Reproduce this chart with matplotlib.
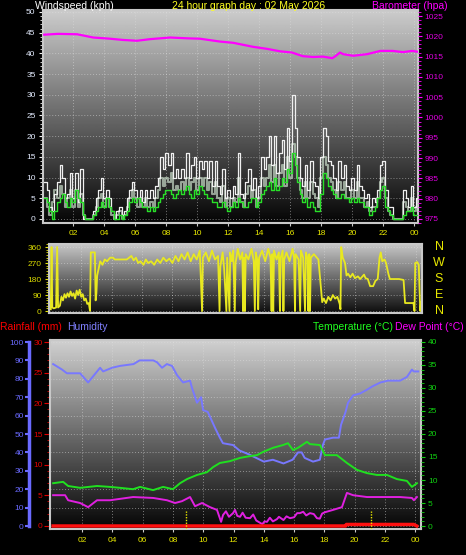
import numpy as np
import matplotlib
matplotlib.use("Agg")
import matplotlib.pyplot as plt
from matplotlib.ticker import MultipleLocator

plt.rcParams["font.family"] = ["Liberation Sans", "DejaVu Sans"]

# ---- data (hours since midnight of the previous day) ----
hour_ticks = [2, 4, 6, 8, 10, 12, 14, 16, 18, 20, 22, 24]
hour_labels = ["02", "04", "06", "08", "10", "12", "14", "16", "18", "20", "22", "00"]

# wind, sampled every 10 minutes from 00:06
wind_start = 0.1
gust = [9, 7, 3, 2, 6, 9, 13, 10, 5, 6, 11, 5, 11, 4, 12, 0, 0, 0,
        0, 2, 5, 7, 10, 5, 7, 5, 2, 0, 2, 3, 1, 2, 5, 7, 9, 7,
        5, 7, 4, 7, 5, 7, 5, 8, 10, 15, 12, 16, 13, 16, 10, 12, 10, 12,
        10, 16, 10, 13, 15, 10, 14, 12, 14, 10, 14, 8, 14, 8, 6, 12, 5, 7,
        5, 8, 6, 16, 6, 5, 9, 12, 7, 10, 5, 8, 15, 12, 15, 20, 13, 20,
        11, 16, 19, 12, 22, 14, 30, 22, 15, 10, 8, 13, 7, 14, 9, 8, 5, 15,
        22, 20, 14, 13, 10, 7, 14, 10, 13, 8, 7, 10, 7, 13, 8, 7, 5, 6,
        3, 5, 4, 7, 13, 14, 7, 3, 3, 0, 0, 0, 0, 7, 5, 3, 8, 3, 5, 2]
speed = [5, 3, 1, 4, 7, 5, 8, 6, 3, 5, 7, 3, 7, 3, 6, 1, 0, 0,
         0, 1, 3, 5, 6, 3, 5, 3, 1, 0, 1, 2, 0, 1, 3, 5, 7, 5,
         3, 5, 3, 5, 3, 4, 3, 5, 7, 10, 8, 10, 9, 11, 7, 8, 7, 9,
         7, 10, 7, 9, 10, 7, 10, 8, 10, 7, 9, 6, 9, 5, 4, 8, 3, 5,
         3, 5, 4, 10, 4, 3, 6, 8, 5, 7, 3, 5, 10, 8, 10, 13, 9, 13,
         8, 11, 13, 8, 15, 10, 18, 15, 10, 7, 5, 9, 5, 9, 6, 5, 3, 10,
         15, 13, 10, 9, 7, 5, 9, 7, 9, 5, 5, 7, 5, 9, 5, 5, 3, 4,
         2, 3, 3, 5, 9, 10, 5, 2, 1, 0, 0, 0, 0, 4, 3, 2, 5, 2, 3, 1]
avg = [5, 4, 2, 0, 2, 4, 5, 6, 4, 3, 5, 4, 7, 5, 4, 1, 0, 0,
       0, 1, 2, 3, 4, 3, 5, 3, 2, 0, 0, 1, 0, 1, 2, 4, 5, 4,
       5, 4, 3, 3, 2, 3, 2, 3, 4, 5, 6, 7, 7, 6, 5, 6, 7, 6,
       7, 8, 6, 5, 7, 6, 8, 7, 6, 5, 5, 4, 4, 3, 3, 4, 3, 2,
       3, 4, 3, 5, 4, 3, 3, 4, 5, 5, 3, 4, 6, 7, 8, 9, 7, 10,
       7, 8, 10, 9, 12, 11, 16, 13, 9, 6, 4, 5, 3, 4, 3, 2, 2, 6,
       11, 10, 8, 7, 6, 5, 5, 6, 5, 5, 4, 5, 4, 5, 4, 4, 3, 3,
       1, 2, 3, 5, 7, 8, 3, 2, 1, 0, 0, 0, 0, 1, 2, 2, 3, 1, 1, 0]
wind_t = wind_start + np.arange(len(gust)) / 6

baro_t = [0.11, 1.0, 2.24, 3.27, 4.37, 5.2, 6.1, 6.95, 8.24, 9.34, 10.17, 11.46, 12.3,
          13.6, 14.5, 15.33, 16.1, 16.8, 17.47, 18.1, 18.7, 18.9, 19.2, 19.4, 20.05,
          20.95, 21.8, 22.6, 23.27, 23.85, 24.2]
baro = [1020.4, 1020.6, 1020.5, 1019.7, 1019.4, 1019.1, 1018.9, 1019.3, 1019.7, 1019.5,
        1019.4, 1018.7, 1018.4, 1017.4, 1016.9, 1016.3, 1016.0, 1015.1, 1014.9, 1015.0,
        1014.6, 1015.1, 1016.0, 1015.6, 1015.2, 1015.6, 1016.4, 1016.4, 1016.1, 1016.4, 1016.2]

dir_t = [0.0, 0.05, 0.1, 0.2, 0.35, 0.42, 0.48, 0.6, 0.7, 0.8, 0.9, 1.0, 1.1, 1.2, 1.3,
         1.4, 1.5, 1.6, 1.7, 1.8, 1.9, 2.0, 2.1, 2.2, 2.3, 2.4, 2.5, 2.58, 2.63, 2.9,
         2.95, 3.0, 3.05, 3.15, 3.25, 3.4, 3.55, 3.7, 3.9, 4.1, 4.2, 4.6, 5.0, 5.3, 5.45,
         5.6, 5.75, 5.9, 6.1, 6.25, 6.4, 6.6, 6.8, 7.0, 7.2, 7.4, 7.6, 7.8, 8.0, 8.2,
         8.4, 8.6, 8.8, 9.0, 9.2, 9.4, 9.6, 9.8, 9.95, 10.0, 10.2, 10.4, 10.6, 10.8, 11.0,
         11.1, 11.15, 11.3, 11.4, 11.55, 11.6, 11.75, 11.8, 11.9, 12.0, 12.1, 12.15, 12.3,
         12.45, 12.6, 12.65, 12.7, 12.76, 12.82, 13.0, 13.2, 13.35, 13.42, 13.48, 13.58,
         13.64, 13.7, 13.9, 14.1, 14.3, 14.45, 14.52, 14.57, 14.63, 14.68, 14.85, 15.0,
         15.07, 15.12, 15.25, 15.3, 15.35, 15.5, 15.7, 15.9, 16.0, 16.06, 16.1, 16.3,
         16.4, 16.45, 16.6, 16.72, 16.78, 16.9, 16.94, 17.0, 17.05, 17.1, 17.3, 17.5,
         17.6, 17.75, 17.85, 17.95, 18.1, 18.25, 18.4, 18.55, 18.7, 18.85, 19.0, 19.05,
         19.1, 19.2, 19.35, 19.45, 19.55, 19.7, 19.85, 20.0, 20.2, 20.35, 20.5, 20.6,
         20.7, 20.85, 21.0, 21.2, 21.35, 21.5, 21.62, 21.7, 21.8, 21.95, 22.05, 22.2,
         22.3, 22.6, 22.9, 23.2, 23.3, 23.6, 23.85, 23.92, 23.97, 24.1, 24.2, 24.3, 24.35]
dir_v = [10, 360, 20, 15, 20, 360, 20, 30, 80, 60, 95, 75, 100, 80, 110,
         85, 100, 70, 115, 90, 120, 80, 95, 60, 70, 40, 45, 0, 330, 330,
         60, 100, 200, 240, 280, 260, 290, 280, 300, 300, 290, 290, 290, 310, 285,
         300, 270, 280, 260, 290, 270, 280, 260, 290, 270, 300, 280, 295, 270, 310,
         280, 320, 290, 330, 280, 320, 290, 340, 0, 300, 330, 280, 340, 290, 310,
         0, 250, 330, 240, 0, 300, 0, 330, 280, 340, 0, 270, 350,
         290, 330, 0, 300, 0, 320, 290, 350, 280, 0, 330, 290,
         10, 300, 340, 280, 350, 300, 0, 320, 0, 340, 290, 330,
         0, 300, 340, 0, 290, 330, 280, 350, 300, 0, 320, 290,
         0, 340, 300, 0, 330, 290, 0, 320, 0, 300, 320, 300,
         290, 150, 50, 70, 45, 80, 60, 90, 70, 80, 40, 10,
         360, 300, 270, 200, 210, 190, 210, 185, 195, 180, 195, 205,
         185, 180, 140, 140, 170, 180, 300, 330, 280, 290, 270, 210,
         180, 180, 180, 175, 45, 45, 45, 0, 270, 275, 260, 0, 50]

hum_t = [0.09, 0.68, 1.0, 1.87, 2.4, 3.19, 3.39, 3.98, 4.5, 5.4, 5.8, 6.7, 6.95, 7.28,
         7.6, 7.94, 8.27, 8.67, 9.13, 9.26, 9.59, 9.86, 9.99, 10.3, 10.8, 11.1, 11.3,
         11.97, 12.4, 13.0, 14.0, 14.6, 15.3, 15.9, 16.26, 16.5, 16.7, 17.25, 17.7, 17.9,
         18.04, 18.57, 18.96, 19.1, 19.4, 19.56, 19.9, 20.35, 20.8, 21.2, 21.7, 22.2,
         23.0, 23.45, 23.78, 23.9, 24.2]
hum = [88, 85, 83, 83, 78, 86, 84, 86, 87, 88, 90, 90, 89, 86, 88, 87, 82, 78, 79, 75,
       67, 70, 63, 62, 53, 48, 45, 44, 41, 39, 35, 36, 34, 36, 40, 40, 37, 35, 36, 44,
       47, 48, 48, 55, 62, 67, 71, 72, 74, 76, 78, 79, 79, 81, 85, 84, 84]

temp_t = [0.09, 0.75, 1.08, 1.87, 2.99, 3.85, 4.5, 5.37, 5.83, 6.69, 7.35, 8.0, 8.47,
          8.93, 9.59, 10.25, 10.65, 11.1, 11.77, 12.43, 13.09, 13.55, 13.95, 14.61,
          15.27, 15.6, 15.93, 16.26, 16.85, 17.05, 17.71, 18.04, 18.83, 19.49, 20.15,
          20.81, 21.47, 22.13, 22.79, 23.45, 23.78, 24.11]
temp = [9.3, 9.6, 8.7, 8.3, 8.7, 8.5, 8.3, 8.0, 8.5, 7.8, 8.5, 8.0, 9.3, 10.2, 11.1,
        11.7, 12.8, 13.7, 14.1, 14.8, 15.2, 15.4, 16.1, 17.0, 17.6, 18.0, 16.5, 17.0,
        18.3, 17.8, 17.6, 15.4, 15.4, 13.7, 12.2, 11.5, 11.1, 11.1, 10.2, 9.8, 8.5, 9.3]

dew_t = [0.09, 0.88, 1.08, 1.87, 2.4, 2.99, 3.85, 5.37, 6.69, 7.61, 8.14, 8.6, 9.13,
         9.46, 9.92, 10.45, 10.91, 11.18, 11.31, 11.5, 11.7, 11.97, 12.1, 12.25, 12.43,
         12.6, 12.8, 13.09, 13.3, 13.5, 13.75, 13.9, 14.05, 14.21, 14.4, 14.6, 14.87,
         15.0, 15.3, 15.5, 15.73, 16.0, 16.2, 16.39, 16.6, 16.8, 17.05, 17.3, 17.51,
         17.7, 17.85, 18.04, 18.57, 19.16, 19.49, 19.89, 20.81, 21.87, 22.99, 23.78,
         23.91, 24.11]
dew = [6.7, 6.7, 5.6, 5.0, 4.1, 5.6, 5.6, 6.3, 6.1, 5.6, 5.0, 5.4, 6.3, 4.3, 5.0, 4.1,
       3.5, 0.9, 2.4, 3.2, 2.0, 2.8, 3.5, 2.2, 2.0, 2.9, 1.8, 1.7, 2.5, 1.2, 0.7, 0.4,
       1.0, 0.9, 1.8, 1.0, 1.5, 2.0, 1.3, 2.1, 1.7, 1.9, 2.8, 2.8, 3.1, 2.3, 2.8, 2.6,
       1.7, 1.6, 2.7, 3.0, 3.5, 4.1, 7.2, 6.7, 6.3, 6.3, 6.3, 6.1, 5.6, 6.3]

rain_t = [0.09, 19.4, 19.45, 23.9, 24.1]
rain = [0, 0, 0.25, 0.25, 0]
marker_hours = [8.87, 21.07]

compass = ["N", "W", "S", "E", "N"]
compass_deg = [360, 270, 180, 90, 0]

# ---- layout helpers (pixel boxes on a 466x555 canvas) ----
W, H = 466, 555
fig = plt.figure(figsize=(W / 100, H / 100), dpi=100, facecolor="black")


def box(l, t, r, b):
    return [l / W, 1 - b / H, (r - l) / W, (b - t) / H]


def shade(ax, top, bottom):
    g = np.linspace(top, bottom, 256).reshape(-1, 1)
    ax.imshow(g, cmap="gray", vmin=0, vmax=1, aspect="auto", extent=[0, 1, 0, 1],
              transform=ax.transAxes, zorder=0)


def frame(ax):
    ax.set_facecolor("black")
    for s in ax.spines.values():
        s.set_color("#c8c8c8")
        s.set_linewidth(1.5)


GRID = dict(color="#e0e0e0", linestyle=(0, (1, 2)), linewidth=0.7, alpha=0.5)
TICK = 6
YEL = "#e8e800"

# ---- wind speed / barometer ----
ax1 = fig.add_axes(box(42.5, 10, 417.5, 223))
frame(ax1)
shade(ax1, 0.80, 0.02)
ax1.step(wind_t, speed, where="post", color="#c8dcc8", lw=1.5, alpha=0.7, zorder=2)
ax1.step(wind_t, gust, where="post", color="#f0f0f0", lw=0.9, zorder=3)
ax1.step(wind_t, avg, where="post", color="#28e028", lw=1.0, zorder=4)
ax1.set_xlim(0, 24.2)
ax1.set_ylim(-0.97, 50.48)
ax1.set_yticks(range(0, 51, 5))
ax1.yaxis.set_minor_locator(MultipleLocator(1))
ax1.set_xticks(hour_ticks, hour_labels)
ax1.grid(True, **GRID)
ax1.tick_params(axis="y", which="both", colors="#f0f0f0", labelcolor="#e4ecff",
                labelsize=TICK, length=3, pad=2)
ax1.tick_params(axis="y", which="minor", length=2)
ax1.tick_params(axis="x", colors="#c8c8c8", labelcolor=YEL, labelsize=TICK, length=2, pad=3)

ax1b = ax1.twinx()
ax1b.plot(baro_t, baro, color="#ff00ff", lw=1.6)
ax1b.set_ylim(974.0, 1026.48)
ax1b.set_yticks(range(975, 1026, 5))
ax1b.yaxis.set_minor_locator(MultipleLocator(1))
ax1b.tick_params(axis="y", which="both", colors="#ff00ff", labelcolor="#e000e0",
                 labelsize=TICK, length=3, pad=2)
ax1b.tick_params(axis="y", which="minor", length=2)
for s in ax1b.spines.values():
    s.set_visible(False)

# ---- wind direction ----
ax2 = fig.add_axes(box(48.5, 244, 421.5, 313))
frame(ax2)
shade(ax2, 0.78, 0.05)
ax2.plot(dir_t, dir_v, color="#e8e820", lw=1.3)
ax2.set_xlim(-0.15, 24.38)
ax2.set_ylim(-11, 377)
ax2.set_yticks([0, 90, 180, 270, 360])
ax2.yaxis.set_minor_locator(MultipleLocator(15))
ax2.set_xticks(hour_ticks)
ax2.grid(True, **GRID)
ax2.tick_params(axis="x", length=0, labelbottom=False)
ax2.tick_params(axis="y", which="both", colors=YEL, labelcolor="#d8d800",
                labelsize=TICK, length=3, pad=2)
ax2.tick_params(axis="y", which="minor", length=2)
for name, deg in zip(compass, compass_deg):
    y_px = 311 - deg * 64 / 360
    fig.text(439 / W, 1 - y_px / H, name, color=YEL, fontsize=9,
             ha="center", va="center")

# ---- humidity / temperature / dew point / rainfall ----
ax3 = fig.add_axes(box(49.5, 340, 421, 529))
frame(ax3)
shade(ax3, 0.82, 0.02)
ax3.plot(hum_t, hum, color="#7878ff", lw=1.4, zorder=3)
ax3.set_xlim(-0.15, 24.38)
ax3.set_ylim(-1.63, 101.09)
ax3.set_yticks(range(0, 101, 10))
ax3.set_xticks(hour_ticks, hour_labels)
ax3.grid(True, **GRID)
ax3.spines["left"].set_position(("outward", 14.5))
ax3.spines["left"].set_color("#6a6aff")
ax3.spines["left"].set_linewidth(2.5)
ax3.spines["left"].set_bounds(0, 100)
ax3.tick_params(axis="y", colors="#6a6aff", labelcolor="#6a6aff",
                labelsize=TICK, length=3, width=1.5, pad=1)
ax3.tick_params(axis="x", colors="#c8c8c8", labelcolor=YEL, labelsize=TICK, length=2, pad=4)

ax3t = ax3.twinx()
ax3t.plot(temp_t, temp, color="#20e020", lw=1.4)
ax3t.plot(dew_t, dew, color="#e020e0", lw=1.4)
ax3t.set_ylim(-0.65, 40.43)
ax3t.set_yticks(range(0, 41, 5))
ax3t.yaxis.set_minor_locator(MultipleLocator(1))
ax3t.tick_params(axis="y", which="both", colors="#10d010", labelcolor="#10d010",
                 labelsize=TICK, length=3, pad=2)
ax3t.tick_params(axis="y", which="minor", length=2)
for s in ax3t.spines.values():
    s.set_visible(False)

ax3r = ax3.twinx()
ax3r.plot(rain_t, rain, color="#ff1010", lw=2.5)
for h in marker_hours:
    ax3r.axvline(h, ymin=0, ymax=0.095, color=YEL, lw=1.0, linestyle=(0, (1, 1)))
ax3r.set_ylim(-0.49, 30.33)
ax3r.yaxis.tick_left()
ax3r.set_yticks(range(0, 31, 5))
ax3r.yaxis.set_minor_locator(MultipleLocator(1))
ax3r.tick_params(axis="y", which="both", colors="#e00000", labelcolor="#e00000",
                 labelsize=TICK, length=4, pad=1)
ax3r.tick_params(axis="y", which="minor", length=2)
for name, s in ax3r.spines.items():
    s.set_visible(name == "left")
    s.set_color("#c8c8c8")
    s.set_linewidth(1.5)

# ---- headings ----
def label(x_px, y_px, text, color):
    fig.text(x_px / W, 1 - y_px / H, text, color=color, fontsize=7.5, ha="left", va="center")


label(35, 6, "Windspeed (kph)", "white")
label(172, 6, "24 hour graph day : 02 May 2026", "#ffff20")
label(372, 6, "Barometer (hpa)", "#ff00ff")
label(0, 327, "Rainfall (mm)", "#ff0000")
label(67, 327, "Humidity", "#8080ff")
label(313, 327, "Temperature (\u00b0C)", "#20ff20")
label(395, 327, "Dew Point (\u00b0C)", "#ff00ff")

fig.savefig("out.png", dpi=100, facecolor="black")
